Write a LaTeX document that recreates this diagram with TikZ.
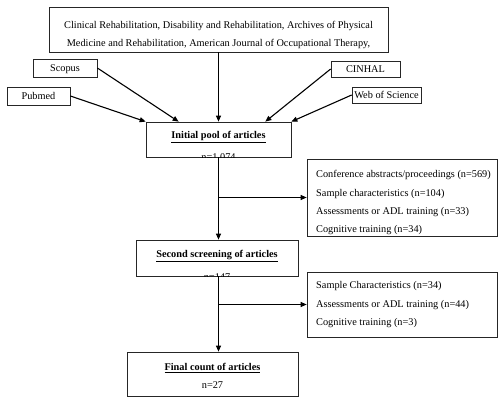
\documentclass[tikz,border=0pt]{standalone}
\usepackage{fontspec}
\setmainfont{Liberation Serif}
\usetikzlibrary{arrows.meta}
\begin{document}
\begin{tikzpicture}[x=1pt,y=-1pt,
  box/.style={draw=black!85,line width=0.7pt,inner sep=0pt,rectangle},
  txt/.style={inner sep=0pt,font=\fontsize{10.3}{12}\selectfont,anchor=base},
  ltxt/.style={txt,anchor=base west},
  arr/.style={line width=1.1pt,-{Triangle[length=6pt,width=5pt]}}]
\useasboundingbox[fill=white] (0,0) rectangle (503,406);
% boxes
\node[box,minimum width=339pt,minimum height=45pt] (journals) at (218.5,29.5) {};
\node[box,minimum width=64pt,minimum height=18pt] (scopus) at (65,68) {};
\node[box,minimum width=63pt,minimum height=18pt] (pubmed) at (38.5,96) {};
\node[box,minimum width=69pt,minimum height=16pt] (cinhal) at (365.5,69) {};
\node[box,minimum width=69pt,minimum height=16pt] (wos) at (386.5,95) {};
\node[box,minimum width=145pt,minimum height=35pt] (init) at (218.5,139.5) {};
\node[box,minimum width=190pt,minimum height=77pt] (excl1) at (402,197.5) {};
\node[box,minimum width=162pt,minimum height=36pt] (second) at (217,258) {};
\node[box,minimum width=190pt,minimum height=65pt] (excl2) at (402,304.5) {};
\node[box,minimum width=171pt,minimum height=44pt] (final) at (212.5,374) {};
% texts
\node[txt] (j1) at (218.5,28.5) {Clinical Rehabilitation, Disability and Rehabilitation, Archives of Physical};
\node[txt] (j2) at (218.5,46.5) {Medicine and Rehabilitation, American Journal of Occupational Therapy,};
\node[txt] (ts) at (65,71.5) {Scopus};
\node[txt] (tp) at (38.5,99.5) {Pubmed};
\node[txt] (tc) at (365.5,72.5) {CINHAL};
\node[txt] (tw) at (386.5,98.5) {Web of Science};
\node[txt] (ti) at (218.5,138.5) {\underline{\textbf{Initial pool of articles}}};
\begin{scope}
\clip (init.south west) rectangle (init.north east);
\node[txt] (ni) at (218.5,160.5) {n=1,074};
\end{scope}
\node[ltxt] (e11) at (316,177.5) {Conference abstracts/proceedings (n=569)};
\node[ltxt] (e12) at (316,196.5) {Sample characteristics (n=104)};
\node[ltxt] (e13) at (316,214.5) {Assessments or ADL training (n=33)};
\node[ltxt] (e14) at (316,232.5) {Cognitive training (n=34)};
\node[txt] (tsec) at (217,257.5) {\underline{\textbf{Second screening of articles}}};
\begin{scope}
\clip (second.south west) rectangle (second.north east);
\node[txt] (nsec) at (217,280) {n=147};
\end{scope}
\node[ltxt] (e21) at (316,288.5) {Sample Characteristics (n=34)};
\node[ltxt] (e22) at (316,307.5) {Assessments or ADL training (n=44)};
\node[ltxt] (e23) at (316,325.5) {Cognitive training (n=3)};
\node[txt] (tf) at (212.5,370.5) {\underline{\textbf{Final count of articles}}};
\node[txt] (nf) at (212.5,388.5) {n=27};
% connectors
\draw[arr] (pubmed.east) -- (init.north west);
\draw[arr] (scopus.east) -- ([xshift=33pt]init.north west);
\draw[arr] (journals.south) -- (init.north);
\draw[arr] (cinhal.west) -- ([xshift=-26pt]init.north east);
\draw[arr] (wos.west) -- (init.north east);
\draw[arr] (init.south) -- (init.south |- second.north);
\draw[arr] (init.south |- excl1.west) -- (excl1.west);
\draw[arr] (init.south |- second.south) -- (init.south |- final.north);
\draw[arr] (init.south |- excl2.west) -- (excl2.west);
\end{tikzpicture}
\end{document}
